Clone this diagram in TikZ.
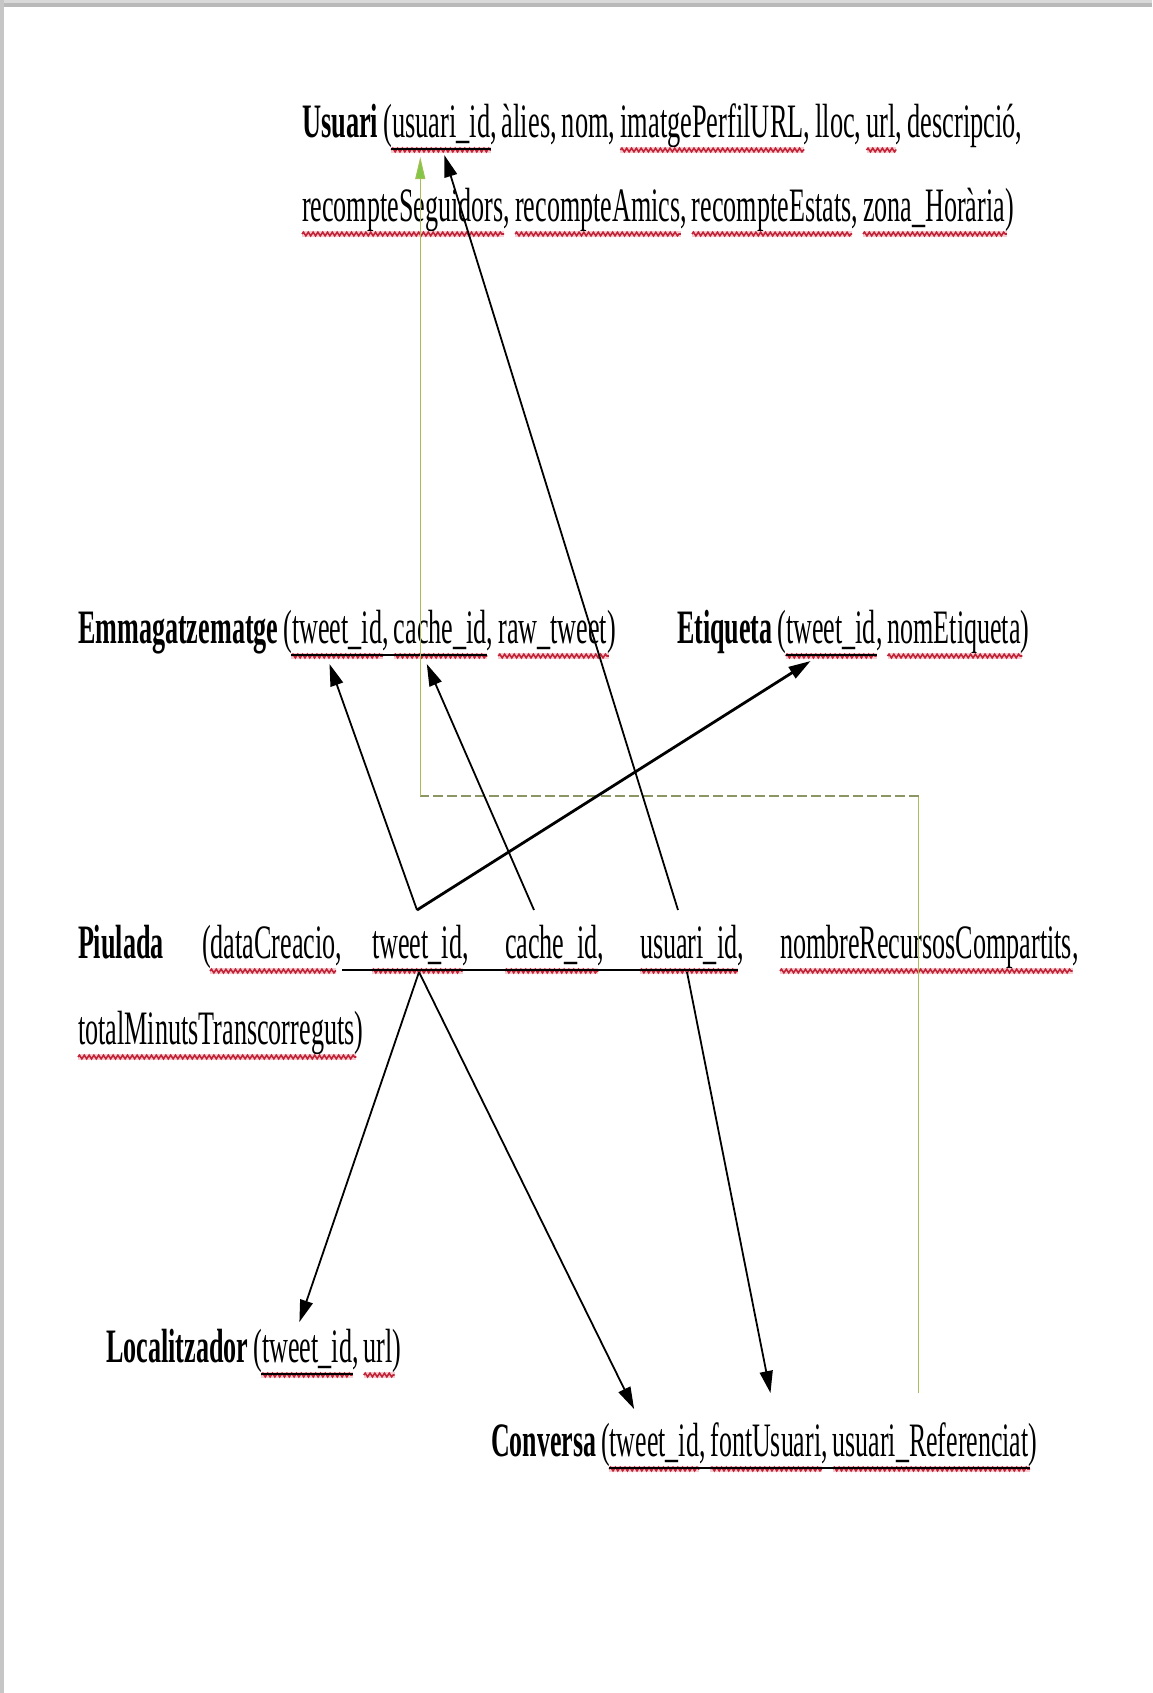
\documentclass[tikz,border=0pt]{standalone}
\usepackage{fontspec}
\setmainfont{Liberation Serif}
\usepackage{graphicx}
\usetikzlibrary{arrows.meta,calc,decorations.pathmorphing}

% horizontal condensing of the schema text (set per line)
\newcommand\xf{0.545}
% a word placed at a given left x and baseline y
\newcommand\word[4]{\node[wordbox] (#1) at (#2,#3) {\scalebox{\xf}[1]{#4}};}
% a word following another one on the same line, after a normal space
\newcommand\nextword[3]{\node[wordbox] (#1) at ($(#2.base east)+(5,0)$) {\scalebox{\xf}[1]{#3}};}
% spelling squiggle under a word: node, left skip, right skip
\newcommand\squig[3]{%
  \draw[squighalo] ($(#1.base west)+(#2,13)$) -- ($(#1.base east)+(-#3,13)$);
  \draw[squiggle] ($(#1.base west)+(#2,13)$) -- ($(#1.base east)+(-#3,13)$);}
% key underline from one word to another: first node, left skip, last node, right skip
\newcommand\keyline[4]{\draw[keyul] ($(#1.base west)+(#2,12)$) -- ($(#3.base east)+(-#4,12)$);}

\definecolor{squigred}{RGB}{195,35,55}
\definecolor{squigpink}{RGB}{245,205,210}
\definecolor{linkgreen}{RGB}{165,190,85}
\definecolor{linkgrey}{RGB}{140,150,100}
\definecolor{tipgreen}{RGB}{130,200,70}

\tikzset{
  wordbox/.style={anchor=base west, inner sep=0pt, outer sep=0pt,
    font=\fontsize{24}{28}\selectfont},
  squighalo/.style={draw=squigpink, line width=2.6pt},
  squiggle/.style={draw=squigred, line width=0.8pt,
    decorate, decoration={snake, amplitude=0.9pt, segment length=2.4pt}},
  keyul/.style={draw=black, line width=0.8pt},
  fk/.style={draw=black, line width=0.9pt,
    -{Triangle[length=11pt,width=6.5pt]}},
  fkbold/.style={fk, line width=1.4pt},
  greenv/.style={draw=linkgreen, line width=0.5pt},
  greenh/.style={draw=linkgrey, line width=1.2pt, dash pattern=on 5pt off 2pt},
  greentip/.style={greenv, -{Triangle[length=11pt,width=5pt,fill=tipgreen]}},
}

\begin{document}
\begin{tikzpicture}[x=0.5pt, y=-0.5pt]
  \useasboundingbox (0,0) rectangle (1152,1693);
  \fill[white] (0,0) rectangle (1152,1693);
  % page shadow
  \fill[gray!30] (0,0) rectangle (1152,3);
  \fill[gray!55] (0,3) rectangle (1152,7);
  \fill[gray!45] (0,0) rectangle (3.5,1693);

  % Usuari
  \renewcommand\xf{0.550}
  \word{u-name}{302}{137}{\textbf{Usuari}}
  \nextword{u-id}{u-name}{(usuari\_id,}
  \nextword{u-al}{u-id}{àlies,}
  \nextword{u-nom}{u-al}{nom,}
  \nextword{u-img}{u-nom}{imatgePerfilURL,}
  \nextword{u-lloc}{u-img}{lloc,}
  \nextword{u-url}{u-lloc}{url,}
  \nextword{u-desc}{u-url}{descripció,}
  \renewcommand\xf{0.544}
  \word{u-rs}{302}{221}{recompteSeguidors,}
  \nextword{u-ra}{u-rs}{recompteAmics,}
  \nextword{u-re}{u-ra}{recompteEstats,}
  \nextword{u-zh}{u-re}{zona\_Horària)}

  % Emmagatzematge
  \renewcommand\xf{0.545}
  \word{e-name}{78}{643}{\textbf{Emmagatzematge}}
  \nextword{e-tid}{e-name}{(tweet\_id,}
  \nextword{e-cid}{e-tid}{cache\_id,}
  \nextword{e-raw}{e-cid}{raw\_tweet)}

  % Etiqueta
  \renewcommand\xf{0.543}
  \word{t-name}{677}{643}{\textbf{Etiqueta}}
  \nextword{t-tid}{t-name}{(tweet\_id,}
  \nextword{t-nom}{t-tid}{nomEtiqueta)}

  % Piulada (justified line)
  \renewcommand\xf{0.545}
  \word{p-name}{78}{958}{\textbf{Piulada}}
  \word{p-dc}{202}{958}{(dataCreacio,}
  \word{p-tid}{372}{958}{tweet\_id,}
  \word{p-cid}{505}{958}{cache\_id,}
  \word{p-uid}{640}{958}{usuari\_id,}
  \word{p-nr}{780}{958}{nombreRecursosCompartits,}
  \word{p-tm}{78}{1044}{totalMinutsTranscorreguts)}

  % Localitzador
  \word{l-name}{106}{1362}{\textbf{Localitzador}}
  \nextword{l-tid}{l-name}{(tweet\_id,}
  \nextword{l-url}{l-tid}{url)}

  % Conversa
  \renewcommand\xf{0.540}
  \word{c-name}{491}{1456}{\textbf{Conversa}}
  \nextword{c-tid}{c-name}{(tweet\_id,}
  \nextword{c-fu}{c-tid}{fontUsuari,}
  \nextword{c-ur}{c-fu}{usuari\_Referenciat)}

  % spelling squiggles
  \squig{u-id}{8}{6} \squig{u-img}{0}{6} \squig{u-url}{0}{6}
  \squig{u-rs}{0}{6} \squig{u-ra}{0}{6} \squig{u-re}{0}{6} \squig{u-zh}{0}{7}
  \squig{e-tid}{8}{6} \squig{e-cid}{0}{6} \squig{e-raw}{0}{7}
  \squig{t-tid}{8}{6} \squig{t-nom}{0}{7}
  \squig{p-dc}{8}{6} \squig{p-tid}{0}{6} \squig{p-cid}{0}{6}
  \squig{p-uid}{0}{6} \squig{p-nr}{0}{6} \squig{p-tm}{0}{7}
  \squig{l-tid}{8}{6} \squig{l-url}{0}{7}
  \squig{c-tid}{8}{6} \squig{c-fu}{0}{6} \squig{c-ur}{0}{7}

  % key underlines
  \keyline{u-id}{8}{u-id}{6}
  \keyline{e-tid}{8}{e-cid}{6}
  \keyline{t-tid}{8}{t-tid}{6}
  \draw[keyul] ($(p-dc.base east)+(0,12)$) -- ($(p-uid.base east)+(-6,12)$);
  \keyline{l-tid}{8}{l-tid}{6}
  \keyline{c-tid}{8}{c-ur}{7}

  % connector end points
  \coordinate (ptid-top) at ($(p-tid.base west)+(45,-48)$);
  \coordinate (ptid-bot) at ($(p-tid.base west)+(47,14)$);
  \coordinate (pcid-top) at ($(p-cid.base west)+(29,-48)$);
  \coordinate (puid-top) at ($(p-uid.base west)+(38,-48)$);
  \coordinate (puid-bot) at ($(p-uid.base west)+(47,14)$);
  \coordinate (uid-a) at ($(u-id.base west)+(61,18)$);
  \coordinate (uid-g) at ($(u-id.base west)+(37,20)$);
  \coordinate (etid-in) at ($(e-tid.base west)+(46,21)$);
  \coordinate (ecid-in) at ($(e-cid.base west)+(33,21)$);
  \coordinate (ttid-in) at ($(t-tid.base west)+(33,18)$);
  \coordinate (ltid-in) at ($(l-tid.base west)+(46,-40)$);
  \coordinate (ctid-in) at ($(c-tid.base west)+(33,-47)$);
  \coordinate (cfu-in) at ($(c-fu.base west)+(60,-63)$);
  \coordinate (cur-out) at ($(c-ur.base west)+(86,-63)$);
  \coordinate (bend-r) at (cur-out |- 0,796);
  \coordinate (bend-l) at (uid-g |- 0,796);

  % usuari_Referenciat -> usuari_id
  \draw[greenv] (cur-out) -- (bend-r);
  \draw[greenh] (bend-r) -- (bend-l);
  \draw[greentip] (bend-l) -- (uid-g);

  % foreign keys
  \draw[fk] (puid-top) -- (uid-a);
  \draw[fk] (ptid-top) -- (etid-in);
  \draw[fk] (pcid-top) -- (ecid-in);
  \draw[fkbold] (ptid-top) -- (ttid-in);
  \draw[fk] (ptid-bot) -- (ltid-in);
  \draw[fk] (ptid-bot) -- (ctid-in);
  \draw[fk] (puid-bot) -- (cfu-in);
\end{tikzpicture}
\end{document}
